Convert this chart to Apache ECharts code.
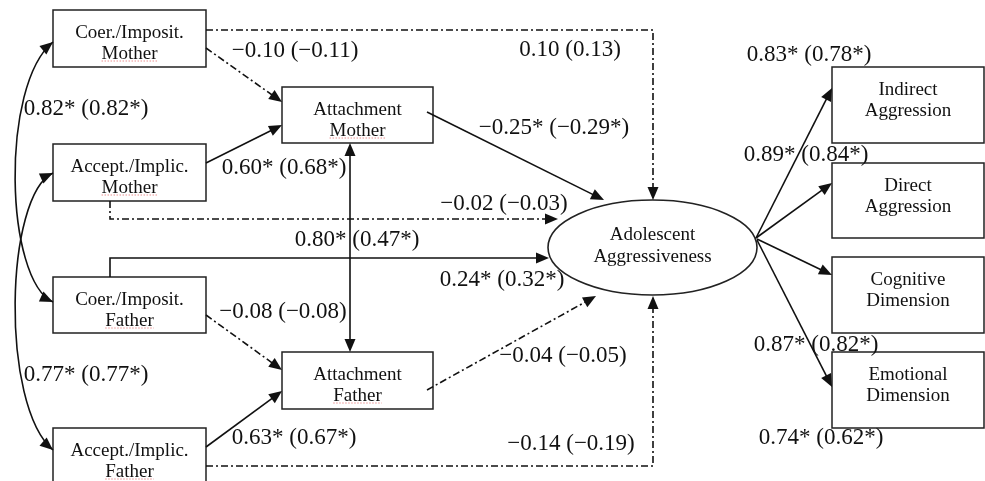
<!DOCTYPE html>
<html><head><meta charset="utf-8">
<script src="https://cdn.jsdelivr.net/npm/echarts@6/dist/echarts.min.js"></script>
<style>html,body{margin:0;padding:0;background:#fff}#c{width:985px;height:481px}</style>
</head><body><div id="c"></div>
<script>
// ---------------- content ----------------
const nodeLabels = [
  'Coer./Imposit.\nMother', 'Accept./Implic.\nMother',
  'Coer./Imposit.\nFather', 'Accept./Implic.\nFather',
  'Attachment\nMother', 'Attachment\nFather',
  'Adolescent\nAggressiveness',
  'Indirect\nAggression', 'Direct\nAggression',
  'Cognitive\nDimension', 'Emotional\nDimension'
];
// words flagged by the spell checker (red dotted underline)
const flaggedWords = ['Mother', 'Mother', 'Father', 'Father', 'Mother', 'Father', '', '', '', '', ''];
const coefLabels = [
  '\u22120.10 (\u22120.11)', '0.10 (0.13)', '0.82* (0.82*)', '0.60* (0.68*)',
  '\u22120.25* (\u22120.29*)', '\u22120.02 (\u22120.03)', '0.80* (0.47*)', '0.24* (0.32*)',
  '\u22120.08 (\u22120.08)', '\u22120.04 (\u22120.05)', '0.77* (0.77*)', '0.63* (0.67*)',
  '\u22120.14 (\u22120.19)', '0.83* (0.78*)', '0.89* (0.84*)', '0.87* (0.82*)', '0.74* (0.62*)'
];

// ---------------- layout ----------------
const W = 985, H = 481;
const nodeShapes = [
  ['rect', 53, 10, 153, 57], ['rect', 53, 144, 153, 57],
  ['rect', 53, 277, 153, 56], ['rect', 53, 428, 153, 57],
  ['rect', 282, 87, 151, 56], ['rect', 282, 352, 151, 57],
  ['ellipse', 652.5, 247.5, 104.5, 47.5],
  ['rect', 832, 67, 152, 76], ['rect', 832, 163, 152, 75],
  ['rect', 832, 257, 152, 76], ['rect', 832, 352, 152, 76]
];
const edgeRoutes = [
  [[206, 48], [282, 102]],
  [[206, 163], [282, 125]],
  [[206, 30], [653, 30], [653, 200]],
  [[110, 201], [110, 219], [558, 219]],
  [[110, 277], [110, 258], [549, 258]],
  [[206, 315], [282, 370]],
  [[206, 447], [282, 391]],
  [[206, 466], [653, 466], [653, 296]],
  [[350, 143], [350, 352]],
  [[427, 112], [604, 200]],
  [[427, 390], [596, 296]],
  [[756, 238], [832, 88]],
  [[756, 238], [832, 183]],
  [[757, 239], [832, 275]],
  [[757, 240], [832, 387]]
];
const edgeDashed = [1, 0, 1, 1, 0, 1, 0, 1, 0, 0, 1, 0, 0, 0, 0];
const edgeBoth   = [0, 0, 0, 0, 0, 0, 0, 0, 1, 0, 0, 0, 0, 0, 0];
const covCurves = [
  [[53, 42], [0, 85], [5, 280], [53, 302]],
  [[53, 173], [5, 195], [0, 405], [53, 450]]
];
const coefPos = [
  [295, 51], [570, 50], [86, 109], [284, 168],
  [554, 128], [504, 204], [357, 240], [502, 280],
  [283, 312], [563, 356], [86, 375], [294, 438],
  [571, 444], [809, 55], [806, 155], [816, 345], [821, 438]
];
const INK = '#111';
const NODE_FONT = '19px "Liberation Serif", "Times New Roman", serif';
const COEF_FONT = '23px "Liberation Serif", "Times New Roman", serif';
const DASHDOT = [7, 3, 2, 3];
const AL = 13, AW = 5.5;

const measureCtx = document.createElement('canvas').getContext('2d');
measureCtx.font = NODE_FONT;

function arrowHead(a, b) { // tip at b, coming from a (pixel coords)
  const dx = b[0] - a[0], dy = b[1] - a[1], len = Math.hypot(dx, dy);
  const ux = dx / len, uy = dy / len;
  const bx = b[0] - ux * AL, by = b[1] - uy * AL;
  return { type: 'polygon', shape: { points: [[b[0], b[1]], [bx - uy * AW, by + ux * AW], [bx + uy * AW, by - ux * AW]] },
           style: { fill: INK } };
}
function pullBack(a, b, d) {
  const dx = b[0] - a[0], dy = b[1] - a[1], len = Math.hypot(dx, dy);
  return [b[0] - dx / len * d, b[1] - dy / len * d];
}

const chart = echarts.init(document.getElementById('c'), null, { renderer: 'canvas' });
chart.setOption({
  animation: false,
  backgroundColor: '#fff',
  grid: { left: 0, right: 0, top: 0, bottom: 0 },
  xAxis: { type: 'value', min: 0, max: W, show: false },
  yAxis: { type: 'value', min: 0, max: H, inverse: true, show: false },
  series: [
    { // nodes
      type: 'custom', coordinateSystem: 'cartesian2d', z: 1, silent: true,
      data: nodeShapes.map((s, i) => ({ name: nodeLabels[i], value: [s[1], s[2]] })),
      renderItem: function (params, api) {
        const i = params.dataIndex, s = nodeShapes[i];
        const children = [];
        let tx, ty, lh = 21;
        if (s[0] === 'rect') {
          const p = api.coord([s[1], s[2]]), q = api.coord([s[1] + s[3], s[2] + s[4]]);
          children.push({ type: 'rect', shape: { x: p[0], y: p[1], width: q[0] - p[0], height: q[1] - p[1] },
            style: { fill: '#fff', stroke: '#222', lineWidth: 1.5 } });
          tx = (p[0] + q[0]) / 2; ty = p[1] + 34;
        } else {
          const c = api.coord([s[1], s[2]]);
          children.push({ type: 'ellipse', shape: { cx: c[0], cy: c[1], rx: s[3], ry: s[4] },
            style: { fill: '#fff', stroke: '#222', lineWidth: 1.6 } });
          tx = c[0]; ty = c[1] - 1; lh = 22;
        }
        children.push({ type: 'text', style: { text: nodeLabels[i], x: tx, y: ty, align: 'center', verticalAlign: 'middle',
          font: NODE_FONT, lineHeight: lh, fill: INK } });
        const w = flaggedWords[i];
        if (w) {
          const ww = measureCtx.measureText(w).width;
          const uy = ty + 17;
          children.push({ type: 'line', shape: { x1: tx - ww / 2, y1: uy, x2: tx + ww / 2, y2: uy },
            style: { stroke: 'rgba(220,70,70,0.6)', lineWidth: 1, lineDash: [1.5, 1.5] } });
        }
        return { type: 'group', children: children };
      }
    },
    { // straight / routed paths
      type: 'custom', coordinateSystem: 'cartesian2d', z: 2, silent: true,
      data: edgeRoutes.map((r) => ({ value: r[0] })),
      renderItem: function (params, api) {
        const i = params.dataIndex;
        const pts = edgeRoutes[i].map((p) => api.coord(p));
        const n = pts.length;
        const drawPts = pts.map((p) => p.slice());
        drawPts[n - 1] = pullBack(pts[n - 2], pts[n - 1], AL - 2);
        const children = [];
        if (edgeBoth[i]) drawPts[0] = pullBack(pts[1], pts[0], AL - 2);
        children.push({ type: 'polyline', shape: { points: drawPts },
          style: { stroke: INK, lineWidth: 1.6, fill: null, lineDash: edgeDashed[i] ? DASHDOT : null } });
        children.push(arrowHead(pts[n - 2], pts[n - 1]));
        if (edgeBoth[i]) children.push(arrowHead(pts[1], pts[0]));
        return { type: 'group', children: children };
      }
    },
    { // covariance curves
      type: 'custom', coordinateSystem: 'cartesian2d', z: 2, silent: true,
      data: covCurves.map((c) => ({ value: c[0] })),
      renderItem: function (params, api) {
        const c = covCurves[params.dataIndex].map((p) => api.coord(p));
        return { type: 'group', children: [
          { type: 'bezierCurve', shape: { x1: c[0][0], y1: c[0][1], cpx1: c[1][0], cpy1: c[1][1],
              cpx2: c[2][0], cpy2: c[2][1], x2: c[3][0], y2: c[3][1] },
            style: { stroke: INK, lineWidth: 1.6, fill: null } },
          arrowHead(c[1], c[0]),
          arrowHead(c[2], c[3])
        ] };
      }
    },
    { // coefficient labels
      type: 'custom', coordinateSystem: 'cartesian2d', z: 3, silent: true,
      data: coefLabels.map((t, i) => ({ name: t, value: coefPos[i] })),
      renderItem: function (params, api) {
        const i = params.dataIndex, p = api.coord(coefPos[i]);
        return { type: 'text', style: { text: coefLabels[i], x: p[0], y: p[1], align: 'center', verticalAlign: 'middle',
          font: COEF_FONT, fill: INK } };
      }
    }
  ]
});
</script>
</body></html>
